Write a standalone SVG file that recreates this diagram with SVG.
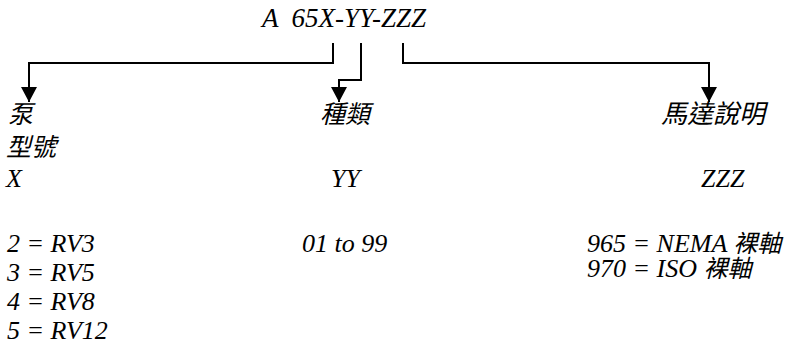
<svg xmlns="http://www.w3.org/2000/svg" width="796" height="351" viewBox="0 0 796 351">
<defs>
<marker id="arr" markerUnits="userSpaceOnUse" markerWidth="16" markerHeight="16" viewBox="0 0 14 15" refX="14" refY="7.5" orient="auto">
<path d="M0,0 L14,7.5 L0,15 z" fill="#000"/>
</marker>
</defs>
<rect width="796" height="351" fill="#fff"/>
<g id="title" font-family="Times New Roman, Liberation Serif, serif" font-style="italic">
<text x="262" y="27" font-size="27">A &#160;65X-YY-ZZZ</text>
</g>
<g id="connectors" fill="none" stroke="#000" stroke-width="2">
<path d="M333,43 V63 H29 V102" marker-end="url(#arr)"/>
<path d="M361,43 V80 H339 V102" marker-end="url(#arr)"/>
<path d="M403,43 V63 H709 V102" marker-end="url(#arr)"/>
</g>
<g id="pump" font-family="Times New Roman, Liberation Serif, serif" font-style="italic" font-size="26">
<text x="8" y="123" font-family="Noto Sans CJK TC, sans-serif" font-size="25">泵</text>
<text x="6" y="156" font-family="Noto Sans CJK TC, sans-serif" font-size="25">型號</text>
<text x="6" y="187">X</text>
<text x="7" y="252">2 = RV3</text>
<text x="7" y="281">3 = RV5</text>
<text x="7" y="310">4 = RV8</text>
<text x="7" y="339">5 = RV12</text>
</g>
<g id="type" font-family="Times New Roman, Liberation Serif, serif" font-style="italic" font-size="26">
<text x="320" y="123" font-family="Noto Sans CJK TC, sans-serif" font-size="25">種類</text>
<text x="331" y="187">YY</text>
<text x="302" y="252">01 to 99</text>
</g>
<g id="motor" font-family="Times New Roman, Liberation Serif, serif" font-style="italic" font-size="26">
<text x="661" y="123" font-family="Noto Sans CJK TC, sans-serif" font-size="26">馬達說明</text>
<text x="701" y="187">ZZZ</text>
<text x="587" y="252">965 = NEMA <tspan font-family="Noto Sans CJK TC, sans-serif" font-size="24">裸軸</tspan></text>
<text x="587" y="277">970 = ISO <tspan font-family="Noto Sans CJK TC, sans-serif" font-size="24">裸軸</tspan></text>
</g>
</svg>
